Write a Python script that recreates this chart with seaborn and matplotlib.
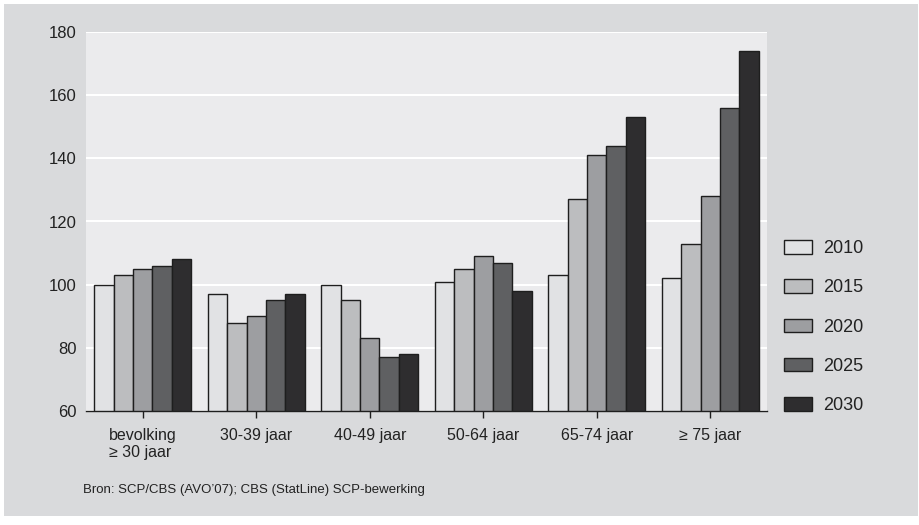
import matplotlib
matplotlib.use("Agg")
import matplotlib.pyplot as plt
import matplotlib.patches as mpatches
import seaborn as sns
import pandas as pd

categories = ["bevolking\n\u2265 30 jaar", "30-39 jaar", "40-49 jaar", "50-64 jaar", "65-74 jaar", "\u2265 75 jaar"]
years = ["2010", "2015", "2020", "2025", "2030"]
v2010 = [100, 97, 100, 101, 103, 102]
v2015 = [103, 88, 95, 105, 127, 113]
v2020 = [105, 90, 83, 109, 141, 128]
v2025 = [106, 95, 77, 107, 144, 156]
v2030 = [108, 97, 78, 98, 153, 174]
yticks = [60, 80, 100, 120, 140, 160, 180]
source = "Bron: SCP/CBS (AVO\u201907); CBS (StatLine) SCP-bewerking"

colors = ["#e1e2e4", "#bcbdbf", "#9d9ea1", "#5f6062", "#2e2d2f"]

rows = []
for y, vals in zip(years, [v2010, v2015, v2020, v2025, v2030]):
    for c, v in zip(categories, vals):
        rows.append({"cat": c, "year": y, "val": v})
df = pd.DataFrame(rows)

plt.rcParams["font.family"] = ["Liberation Sans", "DejaVu Sans"]

W, H = 919, 525
fig = plt.figure(figsize=(W / 100, H / 100), dpi=100, facecolor="white")
fig.patches.append(mpatches.Rectangle((4 / W, 1 - 516 / H), 914 / W, 512 / H,
                                      transform=fig.transFigure, facecolor="#d9dadc",
                                      edgecolor="none", zorder=-10))

ax = fig.add_axes([86 / W, (H - 411) / H, 681 / W, (411 - 32) / H])
ax.set_facecolor("#ebebed")

sns.barplot(data=df, x="cat", y="val", hue="year", palette=colors, order=categories,
            hue_order=years, width=0.855, edgecolor="#1e1e1e", linewidth=1.0,
            saturation=1, ax=ax, zorder=3)

ax.set_ylim(60, 180)
ax.set_xlim(-0.5, 5.5)
ax.set_yticks(yticks)
ax.yaxis.grid(True, color="white", linewidth=1.5, zorder=0)
ax.set_axisbelow(True)
for s in ["top", "right", "left"]:
    ax.spines[s].set_visible(False)
ax.spines["bottom"].set_color("#1e1e1e")
ax.spines["bottom"].set_linewidth(1.0)
ax.spines["bottom"].set_zorder(5)
ax.tick_params(axis="y", length=0, labelsize=12, colors="#222222", pad=7)
ax.tick_params(axis="x", length=5, width=1, color="#1e1e1e", labelsize=11.5,
               labelcolor="#222222", pad=7)
for lbl in ax.get_xticklabels():
    lbl.set_multialignment("left")
    lbl.set_verticalalignment("top")
ax.set_xlabel("")
ax.set_ylabel("")

handles = [mpatches.Patch(facecolor=c, edgecolor="#1e1e1e", linewidth=1.0) for c in colors]
ax.legend_.remove()
fig.legend(handles, years, loc="upper left", bbox_to_anchor=(784 / W, 1 - 240 / H),
           frameon=False, fontsize=13, handlelength=1.55, handleheight=0.78,
           labelspacing=1.23, handletextpad=0.6, borderpad=0, borderaxespad=0,
           labelcolor="#222222")

fig.text(83 / W, 1 - 490 / H, source, fontsize=9.5, color="#222222", va="center", ha="left")

fig.savefig("out.png", dpi=100, facecolor="white")
